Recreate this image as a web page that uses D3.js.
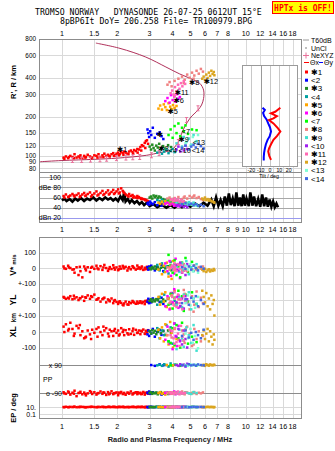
<!DOCTYPE html>
<html>
<head>
<meta charset="utf-8">
<script src="https://cdn.jsdelivr.net/npm/d3@7"></script>
<style>
body { margin: 0; background: #fff; }
svg { display: block; font-family: "Liberation Sans", "DejaVu Sans", sans-serif; }
</style>
</head>
<body>
<svg id="chart" width="335" height="451"></svg>
<script>

var freqTicks = [1, 1.5, 2, 3, 4, 5, 6, 7, 8, 10, 12, 14, 16, 18];
var freqTicksAmp = [1, 1.5, 2, 3, 4, 5, 6, 7, 8, 9, 10, 12, 14, 16, 18];
var heightTicks = [80, 90, 100, 120, 150, 200, 300, 400, 600, 800];
var ampTicks = [100, 80, 60, 40, 20];
var ampLabels = ["100", "dBe 80", "60", "40", "dBn 20"];
var tiltTicks = [-20, -10, 0, 10, 20];

// echoes: [freq MHz, R' km, amp dB, V* m/s, YL km, XL km, PP deg, EP deg]
var s1 = [[1.02,97,63,10,20,35,-85,10],[1.05,99,66,-5,8,50,-95,12],[1.08,96,61,15,15,10,-80,9],[1.11,100,64,0,25,60,-100,11],
  [1.14,98,67,-10,5,20,-88,10],[1.17,103,62,-30,10,-10,-75,13],[1.2,97,65,5,18,40,-110,9],[1.23,99,68,-45,0,25,-90,10],
  [1.26,101,63,-20,12,-20,-82,12],[1.29,96,66,-60,22,5,-98,11],[1.32,100,69,10,-5,-40,-87,10],[1.35,98,64,-15,15,-30,-105,9],
  [1.38,102,67,5,30,10,-92,10],[1.42,99,70,-25,8,-15,-78,11],[1.46,97,65,8,20,15,-96,12],[1.5,101,68,-5,35,-5,-85,10],
  [1.54,100,72,15,2,20,-100,9],[1.58,103,66,-8,12,30,-90,11],[1.62,98,69,12,-10,0,-80,10],[1.66,101,73,-12,6,-20,-95,12],
  [1.7,104,67,20,15,10,-88,10],[1.74,100,70,0,-15,25,-102,9],[1.78,102,74,-18,4,-10,-84,11],[1.82,99,68,6,-8,15,-93,10],
  [1.86,103,71,-6,10,5,-79,10],[1.9,105,75,18,-20,-25,-97,12],[1.94,101,69,-10,0,20,-90,11],[1.98,104,72,4,-12,-5,-86,9],
  [2.02,106,76,-14,-25,10,-104,10],[2.06,103,70,10,-8,-15,-91,11],[2.1,107,78,-4,-18,25,-83,10],[2.14,105,73,14,-30,0,-96,12],
  [2.18,108,69,-2,-22,-20,-89,10],[2.22,106,66,8,-10,12,-101,9],[2.27,104,64,-16,-28,-8,-87,11],[2.32,108,67,6,-14,18,-94,10],
  [2.37,110,63,-8,-20,-12,-80,10],[2.42,107,65,12,-6,6,-99,12],[2.47,111,62,0,-16,-18,-90,11],[2.52,109,60,-10,-24,14,-85,9],
  [2.57,113,63,16,-10,-6,-97,10],[2.62,112,61,4,-18,10,-92,11],[2.67,117,59,-6,-8,-14,-88,10],[2.72,121,58,10,-20,4,-95,12],
  [2.77,119,57,-12,-12,16,-83,10],[2.82,126,56,2,-26,-10,-100,9],[2.86,130,55,-4,-10,8,-90,11],[2.9,132,54,8,-4,-2,-86,10],
  [2.94,124,53,-6,-14,12,-94,10],[1.03,95,60,-2,15,0,-92,9],[1.09,98,62,4,10,20,-86,10],[1.16,96,64,-8,28,-25,-94,11],
  [1.25,97,61,8,12,45,-88,10],[1.34,97,63,-4,18,-35,-96,9],[1.44,96,62,2,25,-45,-84,11],[1.56,97,64,-2,5,-30,-92,10],
  [1.68,98,65,4,10,35,-86,10],[1.8,100,66,-6,-2,-28,-98,12],[1.92,100,67,2,-5,8,-91,10],[2.04,101,68,-8,-15,-22,-87,11],
  [2.16,102,71,6,-34,14,-95,10],[2.3,103,62,-2,-30,-16,-89,9],[2.44,104,60,6,-12,22,-93,10],[2.58,106,59,-4,-22,-4,-85,11],
  [2.7,110,57,2,-16,8,-97,10],[2.84,115,55,-8,-6,-12,-90,10]];
var s2 = [[2.92,160,48,5,-10,-15,-88,10],[2.95,150,50,-10,8,10,-92,9],[2.98,140,46,10,-20,-25,-80,11],[3.02,155,52,-5,0,5,-95,10],
  [3.06,145,49,15,-15,-10,90,12],[3.12,165,47,0,10,20,-85,10],[3.2,138,51,-15,-5,-30,85,9],[3.3,148,45,8,5,0,-90,11],
  [3.4,152,48,-8,-12,12,95,10],[3.48,142,44,20,15,-18,-100,10],[3.56,135,46,-20,-25,8,88,12]];
var s3 = [[3.0,118,60,0,-5,5,-90,10],[3.05,112,62,-8,5,-10,-85,11],[3.1,122,58,6,-10,12,-95,9],[3.15,115,64,-4,2,-4,-88,10],
  [3.2,110,61,10,-8,8,-92,10],[3.26,120,63,-6,6,-14,-86,12],[3.32,116,59,4,-2,2,-98,10],[3.38,124,62,-10,12,16,-90,11],
  [3.45,113,60,2,-14,-8,-84,10],[3.55,119,57,8,4,6,-94,9],[3.65,114,55,-2,-6,-18,-88,10],[3.78,121,53,12,8,10,-96,11],
  [3.92,117,51,-14,-16,-4,-90,10]];
var s4 = [[3.3,106,55,20,-30,25,88,10],[3.4,110,53,-15,20,-40,92,11],[3.5,104,56,30,-10,10,85,9],[3.6,108,52,-25,35,-20,95,10],
  [3.7,112,54,10,-40,45,90,12],[3.8,105,50,-35,15,-60,80,10],[3.9,109,51,40,-25,30,100,10],[4.0,113,48,-10,45,-75,87,11],
  [4.1,107,49,25,-5,55,93,9]];
var s5 = [[3.35,232,50,-10,20,15,-90,10],[3.42,245,48,25,-30,-40,-85,11],[3.5,228,52,-40,40,30,-95,9],[3.58,250,47,15,-10,-60,-88,10],
  [3.65,238,53,-25,50,50,-100,12],[3.72,226,49,35,-45,-20,90,10],[3.8,255,51,-55,10,-80,-92,10],[3.88,240,46,5,-55,65,-86,11],
  [3.95,230,50,-70,30,-5,-90,9],[4.02,247,48,45,-20,-100,88,10],[4.1,235,45,-15,60,20,-94,10],[4.2,243,47,20,-35,-45,-88,12]];
var s6 = [[3.65,265,48,30,-40,-50,-90,10],[3.75,280,50,-20,25,35,-85,11],[3.85,258,46,45,-60,-75,-95,9],[3.92,295,52,-50,45,10,-88,10],
  [4.0,270,47,10,-15,-110,-92,12],[4.08,288,44,-35,70,55,-80,10],[4.15,262,49,60,-30,-25,-98,11],[4.22,300,45,-10,20,-90,-86,10],
  [4.3,276,43,25,-50,40,-94,9],[4.38,285,46,-65,5,-60,-90,10]];
var s7 = [[3.8,145,55,85,-30,-60,-90,10],[3.9,160,53,20,40,-70,88,11],[4.0,138,57,-30,-55,25,-85,9],[4.1,170,52,50,15,-85,-95,10],
  [4.2,150,54,-45,-20,45,92,12],[4.3,178,50,10,60,-40,-88,10],[4.4,142,51,-60,-40,-100,85,10],[4.5,165,49,35,25,60,-92,11],
  [4.6,155,48,-15,-70,-55,90,9],[4.7,172,50,65,35,15,-86,10],[4.85,148,47,-25,-10,-75,95,10],[5.1,160,46,40,50,-30,-90,12],
  [5.4,158,45,-5,-25,-65,88,10]];
var s8 = [[3.75,355,58,5,10,-20,-90,10],[3.85,372,60,-10,-20,15,-85,11],[3.95,345,56,15,30,-35,-95,9],[4.1,380,59,-5,-35,25,-88,10],
  [4.3,395,61,20,5,-50,-92,12],[4.5,410,57,-15,-50,10,-80,10],[4.65,388,62,8,40,-70,-98,11],[4.8,425,58,-20,-15,35,-86,10],
  [4.95,402,63,12,-60,-10,-94,9],[5.1,440,60,-8,25,-90,-90,10],[5.25,418,64,18,-30,20,-84,12],[5.4,455,59,-12,55,-45,-96,10],
  [5.55,432,61,6,-45,5,-88,11],[5.7,470,57,-4,15,-60,-92,10],[5.85,448,55,10,-20,-25,-86,9],[5.2,395,62,-18,-75,-80,-90,10],
  [4.6,365,60,25,65,-15,-94,11]];
var s9 = [[4.2,125,50,10,-30,-110,-90,10],[4.35,132,52,-25,20,15,-86,11],[4.5,118,48,30,-45,-40,-94,9],[4.6,140,53,-10,35,-95,-90,10],
  [4.75,128,49,45,-10,30,-88,12],[4.9,136,51,-40,50,-20,-92,10],[5.05,122,47,5,-60,-70,-96,10],[5.2,145,50,-20,10,45,-84,11],
  [5.4,130,46,25,-25,-120,-90,10]];
var s10 = [[4.2,112,44,20,-15,-30,90,10],[4.3,118,46,-15,30,20,85,11],[4.4,108,43,35,-40,-55,95,9],[4.5,115,45,-30,10,-80,88,10],
  [4.6,110,42,10,-55,10,92,12],[4.7,120,44,-45,25,-45,80,10],[4.8,113,41,25,5,-100,98,10]];
var s11 = [[3.9,305,55,0,-10,-20,-90,10],[3.98,320,57,15,20,5,-85,11],[4.05,298,53,-12,-30,-40,-95,9],[4.12,340,58,8,10,25,-88,10],
  [4.2,315,54,-20,-45,-65,-92,12],[4.28,355,56,25,35,-10,-80,10],[4.36,330,52,-5,-20,-90,-98,11],[4.44,365,55,18,5,40,-86,10],
  [4.52,345,51,-28,-60,-30,-94,9],[4.6,378,53,10,25,-55,-90,10],[4.68,360,50,-15,-5,15,-88,12],[4.1,290,54,30,50,-75,-92,10]];
var s12 = [[5.8,395,58,-10,60,-20,88,10],[5.9,410,56,-20,20,10,92,11],[6.0,385,60,-5,-15,-45,85,9],[6.1,425,55,-25,45,-10,95,10],
  [6.2,400,57,-15,-40,20,90,12],[6.3,440,54,-8,10,-60,86,10],[6.4,415,56,-22,-60,5,94,10],[6.5,455,53,-12,30,-30,90,11],
  [6.6,430,52,-18,-25,-80,88,10],[6.7,445,51,-6,0,-15,92,9],[6.75,420,50,-14,-100,-50,90,10]];
var s13 = [[4.7,125,48,15,-20,-10,90,10],[4.85,135,46,-10,30,-40,85,11],[5.0,120,47,25,-35,20,95,9],[5.15,140,45,-20,10,-70,88,10],
  [5.3,128,44,5,-50,-25,92,12],[5.5,145,43,-30,20,-105,90,10]];
var s14 = [[4.5,115,47,5,-20,-25,90,10],[4.7,120,49,-5,5,10,85,11],[4.9,112,46,10,-30,-35,95,9],[5.05,118,48,-10,15,-5,88,10],
  [5.2,122,45,15,-10,-50,92,12],[5.35,116,47,0,25,0,86,10],[5.5,124,44,-15,-40,-20,94,10],[5.7,119,46,8,0,-40,90,11],
  [5.9,114,43,-4,-25,15,88,10]];

var seriesNames = ["✱1", "<2", "✱3", "<4", "✱5", "✱6", "<7", "✱8", "✱9", "<10", "✱11", "✱12", "<13", "<14"];
var seriesColors = ["#ff0000", "#0000ff", "#228b22", "#00a0a0", "#ffa500", "#ff00ff", "#00ff00",
  "#f08080", "#40e0d0", "#a020f0", "#ff69b4", "#daa520", "#7fffd4", "#4169e1"];

// labels placed on the ionogram
var tagText = ["✱1", "✱", "✱3", "<4", "✱5", "✱6", "<7", "✱8", "✱9", "<10", "✱11", "✱12", "<13", "<14"];
var tagF = [2.07, 3.41, 3.48, 3.95, 3.9, 4.2, 4.66, 5.1, 4.47, 4.47, 4.27, 6.13, 5.34, 5.28];
var tagR = [112, 145, 114, 109, 222, 266, 155, 370, 134, 110, 306, 378, 127, 110];

// true height profile
var profF = [0.76, 1.0, 1.51, 2.0, 2.89, 3.41, 3.95, 4.29, 4.56, 4.97, 5.5, 5.75, 5.9, 5.9, 5.63, 5.09, 4.38, 3.68, 2.86, 2.07, 1.53];
var profR = [90, 92, 94, 96, 101, 106, 111, 128, 158, 195, 226, 247, 278, 322, 363, 392, 429, 486, 580, 677, 744];

// NeXYZ markers
var neF = [1.14, 1.28, 1.43, 1.61, 1.75, 1.98, 2.23, 2.43, 2.65, 3.07, 3.38, 4.3, 4.76, 5.5];
var neR = [93, 93, 93.5, 94, 95, 96, 97, 97.5, 98, 101, 105, 128, 189, 233];

// tilt inset
var tiltXR = [235, 219, 213, 203, 195, 189, 178, 163, 154, 142, 133, 123, 114, 108, 100, 93];
var tiltX = [11.1, 5.6, 1.1, 7.4, 3.7, -1.1, 3.7, 8.6, 11.1, 7.4, 3.7, 1.1, -1.1, -1.9, -0.8, 1.1];
var tiltYR = [235, 226, 215, 203, 191, 178, 166, 154, 142, 133, 123, 114, 106, 98, 92];
var tiltY = [-8, -5.5, -7.4, -6.3, -3.7, -1.9, 0, 1.1, -0.3, -2.6, -4.4, -5.5, -6.3, -6.7, -6.7];

// noise trace in amplitude panel
var noise = [[1.0,54],[1.03,58],[1.06,53],[1.1,57],[1.14,52],[1.18,58],[1.22,54],[1.27,59],[1.32,53],[1.37,58],[1.42,55],
  [1.48,60],[1.54,54],[1.6,59],[1.66,55],[1.72,60],[1.78,56],[1.84,59],[1.9,54],[1.96,58],[2.02,53],[2.08,62],[2.14,55],
  [2.18,70],[2.22,52],[2.28,57],[2.34,50],[2.4,55],[2.48,49],[2.56,53],[2.64,47],[2.72,51],[2.8,45],[2.9,50],[3.0,43],
  [3.15,47],[3.3,41],[3.5,46],[3.7,40],[3.9,45],[4.1,40],[4.3,46],[4.5,41],[4.8,47],[5.0,42],[5.3,48],[5.6,43],[5.9,50],
  [6.2,44],[6.5,56],[6.7,43],[6.9,60],[7.1,44],[7.3,55],[7.5,43],[7.7,62],[7.9,44],[8.1,68],[8.3,45],[8.5,58],[8.7,43],
  [8.9,70],[9.1,44],[9.3,60],[9.5,43],[9.7,66],[9.9,44],[10.1,58],[10.4,43],[10.6,70],[10.9,44],[11.1,62],[11.4,43],
  [11.7,57],[12.0,42],[12.3,66],[12.6,43],[12.9,60],[13.2,42],[13.5,56],[13.8,42],[14.1,52],[14.4,41],[14.7,48],[15.0,41]];

var svg = d3.select('#chart');

var x = d3.scaleLog().domain([0.75, 20]).range([39, 301]);
var yR = d3.scaleLog().domain([75, 800]).range([172, 39]);
var yA = d3.scaleLinear().domain([10, 110]).range([223, 172]);
var yV = d3.scaleLinear().domain([-100, 100]).range([283.5, 252.5]);
var yYL = d3.scaleLinear().domain([-100, 100]).range([315.5, 284.5]);
var yXL = d3.scaleLinear().domain([-100, 100]).range([347.5, 316.5]);
var yPP = d3.scaleLinear().domain([-90, 90]).range([393, 365]);
var yEP = d3.scaleLog().domain([0.1, 10]).range([414, 407]);
var tx = d3.scaleLinear().domain([-30, 30]).range([242, 298]);

var grid = svg.append('g').attr('stroke', '#d9d9d9').attr('stroke-width', 1);

function vgrid(ticks, top, bottom) {
  grid.selectAll(null).data(ticks).enter().append('line')
    .attr('x1', d => Math.round(x(d)) + 0.5).attr('x2', d => Math.round(x(d)) + 0.5)
    .attr('y1', top).attr('y2', bottom);
}
function hgrid(vals, sc, col) {
  svg.append('g').selectAll(null).data(vals).enter().append('line')
    .attr('x1', 39).attr('x2', 301)
    .attr('y1', d => Math.round(sc(d)) + 0.5).attr('y2', d => Math.round(sc(d)) + 0.5)
    .attr('stroke', col || '#d9d9d9');
}

vgrid(freqTicks, 39, 172);
vgrid(freqTicksAmp, 172, 223);
vgrid(freqTicks, 237, 419);
hgrid(heightTicks, yR);
hgrid([100, 80, 60, 40], yA, '#a8a8a8');
hgrid([20], yA, '#9999ee');
hgrid([100, 0, -100], yV);
hgrid([0, -100], yYL);
hgrid([0, -100], yXL);
hgrid([90, -90], yPP, '#8c8c8c');
hgrid([10, 0.1], yEP);

// panel borders
svg.append('rect').attr('x', 39.5).attr('y', 39.5).attr('width', 262).attr('height', 183)
  .attr('fill', 'none').attr('stroke', '#8c8c8c');
svg.append('line').attr('x1', 39).attr('x2', 301).attr('y1', 172.5).attr('y2', 172.5).attr('stroke', '#8c8c8c');
svg.append('rect').attr('x', 39.5).attr('y', 237.5).attr('width', 262).attr('height', 181)
  .attr('fill', 'none').attr('stroke', '#8c8c8c');

// frequency labels
function freqAxis(ticks, y) {
  svg.append('g').selectAll(null).data(ticks).enter().append('text')
    .attr('x', d => x(d)).attr('y', y).attr('text-anchor', 'middle')
    .attr('font-size', 7.2).text(d => d);
}
freqAxis(freqTicks, 35.5);
freqAxis(freqTicksAmp, 231.5);
freqAxis(freqTicks, 428.5);

// height axis
var ax = svg.append('g').attr('transform', 'translate(39,0)')
  .call(d3.axisLeft(yR).tickValues(heightTicks).tickFormat(d3.format('d')).tickSize(0).tickPadding(3));
ax.select('.domain').remove();
ax.selectAll('text').attr('font-size', 6.4).attr('font-family', 'Liberation Sans').attr('dy', '0.3em');

svg.append('g').selectAll(null).data(ampTicks).enter().append('text')
  .attr('x', 61).attr('y', d => yA(d) + 2.5).attr('text-anchor', 'end').attr('font-size', 7)
  .text((d, i) => ampLabels[i]);

var lowLab = [["100", yV(100)], ["0", yV(0)], ["+-100", yV(-100)], ["0", yYL(0)], ["+-100", yYL(-100)],
  ["0", yXL(0)], ["-100", yXL(-100)], ["10.", yEP(10)], ["0.1", yEP(0.1)]];
svg.append('g').selectAll(null).data(lowLab).enter().append('text')
  .attr('x', 36).attr('y', d => d[1] + 2.5).attr('text-anchor', 'end').attr('font-size', 7)
  .text(d => d[0]);
svg.append('text').attr('x', 62).attr('y', yPP(90) + 2.5).attr('text-anchor', 'end').attr('font-size', 7).text('x  90');
svg.append('text').attr('x', 43).attr('y', 381.5).attr('font-size', 7).text('PP');
svg.append('text').attr('x', 62).attr('y', yPP(-90) + 2.5).attr('text-anchor', 'end').attr('font-size', 7).text('o -90');

function vlabel(t, cy, size) {
  svg.append('text').attr('transform', 'translate(16,' + cy + ') rotate(-90)')
    .attr('text-anchor', 'middle').attr('font-size', size).attr('font-weight', 'bold').text(t);
}
vlabel("R', R / km", 82, 7.5);
svg.append('text').attr('transform', 'translate(16,265) rotate(-90)').attr('text-anchor', 'middle')
  .attr('font-weight', 'bold').html('<tspan font-size="8.5">V*</tspan><tspan font-size="6" dx="2">m/s</tspan>');
vlabel('YL', 300, 8.5);
svg.append('text').attr('transform', 'translate(16,325) rotate(-90)').attr('text-anchor', 'middle')
  .attr('font-weight', 'bold').html('<tspan font-size="8.5">XL</tspan><tspan font-size="6.5" dx="4">km</tspan>');
vlabel('EP / deg', 408, 7.5);

svg.append('text').attr('x', 170).attr('y', 442).attr('text-anchor', 'middle').attr('font-size', 7.4)
  .attr('font-weight', 'bold').attr('fill', '#222').text('Radio and Plasma Frequency / MHz');

// title
svg.append('text').attr('x', 35).attr('y', 15).attr('font-family', 'DejaVu Sans Mono').attr('font-size', 8.2)
  .attr('xml:space', 'preserve').text('TROMSO NORWAY   DYNASONDE 26-07-25 0612UT 15°E');
svg.append('text').attr('x', 60).attr('y', 23.5).attr('font-family', 'DejaVu Sans Mono').attr('font-size', 8.2)
  .text('8pBP6It DoY= 206.258 File= TR100979.BPG');
svg.append('rect').attr('x', 272.5).attr('y', 1.5).attr('width', 61).attr('height', 12)
  .attr('fill', '#ffff00').attr('stroke', '#ff0000');
svg.append('text').attr('x', 303).attr('y', 10.5).attr('text-anchor', 'middle').attr('fill', '#ff0000')
  .attr('font-family', 'DejaVu Sans Mono').attr('font-weight', 'bold').attr('font-size', 8).text('HPTx is OFF!');

// amplitude noise
svg.append('path').datum(noise)
  .attr('d', d3.line().x(d => x(d[0])).y(d => yA(d[1])))
  .attr('fill', 'none').attr('stroke', '#000').attr('stroke-width', 2.6);

// profile line
var prof = profF.map((f, i) => [f, profR[i]]);
svg.append('path').datum(prof)
  .attr('d', d3.line().x(d => x(d[0])).y(d => yR(d[1])).curve(d3.curveCatmullRom))
  .attr('fill', 'none').attr('stroke', '#b0305a').attr('stroke-width', 1);

// echoes
var allSeries = [s1, s2, s3, s4, s5, s6, s7, s8, s9, s10, s11, s12, s13, s14];
var cols = [[1, yR], [2, yA], [3, yV], [4, yYL], [5, yXL], [6, yPP], [7, yEP]];
allSeries.forEach(function(rows, si) {
  var g = svg.append('g').attr('fill', seriesColors[si]);
  cols.forEach(function(c) {
    g.selectAll(null).data(rows).enter().append('rect')
      .attr('x', d => x(d[0]) - 1.2).attr('y', d => c[1](d[c[0]]) - 1.2)
      .attr('width', 2.5).attr('height', 2.5);
  });
});

// NeXYZ markers
var ne = neF.map((f, i) => [f, neR[i]]);
svg.append('g').selectAll(null).data(ne).enter().append('path')
  .attr('d', d => { var px = x(d[0]), py = yR(d[1]);
    return 'M' + (px - 1.5) + ',' + (py - 2.5) + 'h3M' + px + ',' + (py - 2.5) + 'v5M' + (px - 1.5) + ',' + (py + 2.5) + 'h3'; })
  .attr('stroke', '#e8709a').attr('stroke-width', 1).attr('fill', 'none');

// echo tags
svg.append('g').selectAll(null).data(tagText).enter().append('text')
  .attr('x', (d, i) => x(tagF[i]) - 3).attr('y', (d, i) => yR(tagR[i]) + 2.5)
  .attr('font-size', 7.4).attr('fill', '#000').text(d => d);

// tilt inset
var inset = svg.append('g');
inset.append('rect').attr('x', 242.5).attr('y', 65.5).attr('width', 55).attr('height', 101)
  .attr('fill', '#fff').attr('stroke', '#9a9a9a');
inset.selectAll(null).data(tiltTicks).enter().append('line')
  .attr('x1', d => Math.round(tx(d)) + 0.5).attr('x2', d => Math.round(tx(d)) + 0.5)
  .attr('y1', 66).attr('y2', 166).attr('stroke', d => d === -10 ? '#9a9a9a' : '#c8c8c8');
inset.selectAll(null).data(tiltTicks).enter().append('text')
  .attr('x', d => tx(d)).attr('y', 172).attr('text-anchor', 'middle').attr('font-size', 5.2).text(d => d);
inset.append('text').attr('x', 269).attr('y', 177.5).attr('text-anchor', 'middle').attr('font-size', 5.2).text('Tilt / deg');
inset.append('path').datum(tiltYR.map((r, i) => [tiltY[i], r]))
  .attr('d', d3.line().x(d => tx(d[0])).y(d => yR(d[1])))
  .attr('fill', 'none').attr('stroke', '#0000ff').attr('stroke-width', 2);
inset.append('path').datum(tiltXR.map((r, i) => [tiltX[i], r]))
  .attr('d', d3.line().x(d => tx(d[0])).y(d => yR(d[1])))
  .attr('fill', 'none').attr('stroke', '#ff0000').attr('stroke-width', 2);

// legend
var leg = svg.append('g').attr('font-size', 7);
leg.append('line').attr('x1', 303).attr('x2', 309).attr('y1', 40).attr('y2', 40).attr('stroke', '#999');
leg.append('text').attr('x', 311).attr('y', 42.5).text('T60dB');
leg.append('rect').attr('x', 305.5).attr('y', 47.5).attr('width', 1).attr('height', 1).attr('fill', '#000');
leg.append('text').attr('x', 311).attr('y', 50.5).text('UnCl');
leg.append('path').attr('d', 'M303,55.5h6M306,52.5v6').attr('stroke', '#e8709a');
leg.append('text').attr('x', 311).attr('y', 58).text('NeXYZ');
leg.append('line').attr('x1', 304).attr('x2', 309).attr('y1', 62.5).attr('y2', 62.5).attr('stroke', '#ff0000');
leg.append('text').attr('x', 310).attr('y', 65).text('Θx');
leg.append('line').attr('x1', 319).attr('x2', 323).attr('y1', 62.5).attr('y2', 62.5).attr('stroke', '#0000ff');
leg.append('text').attr('x', 324).attr('y', 65).text('Θy');
leg.selectAll(null).data(seriesNames).enter().append('rect')
  .attr('x', 305).attr('y', (d, i) => 70.5 + i * 8.2).attr('width', 3).attr('height', 3)
  .attr('fill', (d, i) => seriesColors[i]);
leg.selectAll(null).data(seriesNames).enter().append('text')
  .attr('x', 311).attr('y', (d, i) => 75 + i * 8.2).attr('font-size', 8).text(d => d);

</script>
</body>
</html>
